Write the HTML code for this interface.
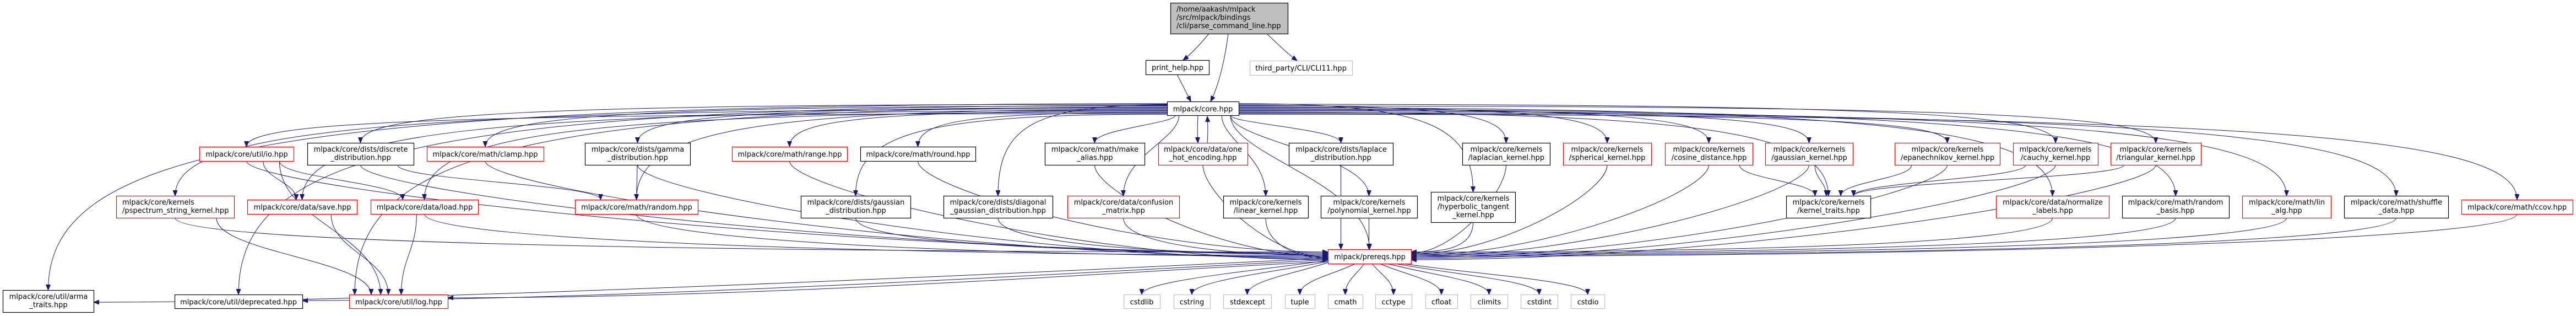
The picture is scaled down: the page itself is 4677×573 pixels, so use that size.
<!DOCTYPE html>
<html><head><meta charset="utf-8"><style>
html,body{margin:0;padding:0;background:#fff;}
svg{display:block;}
text{font-family:"DejaVu Sans","Liberation Sans",sans-serif;font-size:13px;fill:#000;}
</style></head><body>
<svg id="s" width="4677" height="573" viewBox="0 0 4677 573" xmlns="http://www.w3.org/2000/svg">
<defs><marker id="a" markerUnits="userSpaceOnUse" markerWidth="11" markerHeight="9" refX="10" refY="4" orient="auto"><path d="M0,0 L10,4 L0,8 z" fill="#191970" stroke="#191970"/></marker></defs>
<g id="edges" fill="none" stroke="#191970" stroke-width="1"></g>
<g id="nodes" stroke-width="1.2">
<rect x="2125.5" y="5.5" width="213" height="56" fill="#bfbfbf" stroke="#000"/>
<text x="2136" y="21">/home/aakash/mlpack</text><text x="2136" y="36">/src/mlpack/bindings</text><text x="2136" y="51">/cli/parse_command_line.hpp</text>
<rect x="2080.5" y="109.5" width="115" height="26" fill="#fff" stroke="#000"/><text x="2138" y="127" text-anchor="middle">print_help.hpp</text>
<rect x="2269.5" y="110.5" width="186" height="26" fill="#fff" stroke="#bfbfbf"/><text x="2362" y="128" text-anchor="middle">third_party/CLI/CLI11.hpp</text>
<rect x="2119.5" y="184.5" width="130" height="25" fill="#fff" stroke="#000"/><text x="2184" y="202" text-anchor="middle">mlpack/core.hpp</text>

<rect x="362.5" y="266.5" width="171" height="26" fill="#fff" stroke="#f00"/><text x="448" y="284" text-anchor="middle">mlpack/core/util/io.hpp</text>
<rect x="558.5" y="259.5" width="193" height="40" fill="#fff" stroke="#000"/><text x="655" y="275" text-anchor="middle">mlpack/core/dists/discrete</text><text x="655" y="290" text-anchor="middle">_distribution.hpp</text>
<rect x="775.5" y="266.5" width="212" height="26" fill="#fff" stroke="#f00"/><text x="881" y="284" text-anchor="middle">mlpack/core/math/clamp.hpp</text>
<rect x="1062.5" y="259.5" width="191" height="40" fill="#fff" stroke="#000"/><text x="1158" y="275" text-anchor="middle">mlpack/core/dists/gamma</text><text x="1158" y="290" text-anchor="middle">_distribution.hpp</text>
<rect x="1329.5" y="266.5" width="209" height="26" fill="#fff" stroke="#f00"/><text x="1434" y="284" text-anchor="middle">mlpack/core/math/range.hpp</text>
<rect x="1562.5" y="266.5" width="209" height="26" fill="#fff" stroke="#000"/><text x="1667" y="284" text-anchor="middle">mlpack/core/math/round.hpp</text>
<rect x="1897.5" y="259.5" width="181" height="40" fill="#fff" stroke="#000"/><text x="1988" y="275" text-anchor="middle">mlpack/core/math/make</text><text x="1988" y="290" text-anchor="middle">_alias.hpp</text>
<rect x="2103.5" y="259.5" width="162" height="40" fill="#fff" stroke="#f00"/><text x="2184" y="275" text-anchor="middle">mlpack/core/data/one</text><text x="2184" y="290" text-anchor="middle">_hot_encoding.hpp</text>
<rect x="2340.5" y="259.5" width="189" height="40" fill="#fff" stroke="#000"/><text x="2435" y="275" text-anchor="middle">mlpack/core/dists/laplace</text><text x="2435" y="290" text-anchor="middle">_distribution.hpp</text>
<rect x="2655.5" y="259.5" width="159" height="40" fill="#fff" stroke="#000"/><text x="2735" y="275" text-anchor="middle">mlpack/core/kernels</text><text x="2735" y="290" text-anchor="middle">/laplacian_kernel.hpp</text>
<rect x="2838.5" y="259.5" width="160" height="40" fill="#fff" stroke="#f00"/><text x="2918" y="275" text-anchor="middle">mlpack/core/kernels</text><text x="2918" y="290" text-anchor="middle">/spherical_kernel.hpp</text>
<rect x="3023.5" y="259.5" width="159" height="40" fill="#fff" stroke="#f00"/><text x="3103" y="275" text-anchor="middle">mlpack/core/kernels</text><text x="3103" y="290" text-anchor="middle">/cosine_distance.hpp</text>
<rect x="3205.5" y="259.5" width="159" height="40" fill="#fff" stroke="#f00"/><text x="3285" y="275" text-anchor="middle">mlpack/core/kernels</text><text x="3285" y="290" text-anchor="middle">/gaussian_kernel.hpp</text>
<rect x="3440.5" y="259.5" width="191" height="40" fill="#fff" stroke="#f00"/><text x="3536" y="275" text-anchor="middle">mlpack/core/kernels</text><text x="3536" y="290" text-anchor="middle">/epanechnikov_kernel.hpp</text>
<rect x="3655.5" y="259.5" width="154" height="40" fill="#fff" stroke="#f00"/><text x="3732" y="275" text-anchor="middle">mlpack/core/kernels</text><text x="3732" y="290" text-anchor="middle">/cauchy_kernel.hpp</text>
<rect x="3832.5" y="259.5" width="164" height="40" fill="#fff" stroke="#f00"/><text x="3914" y="275" text-anchor="middle">mlpack/core/kernels</text><text x="3914" y="290" text-anchor="middle">/triangular_kernel.hpp</text>

<rect x="211.5" y="355.5" width="214" height="40" fill="#fff" stroke="#f00"/><text x="222" y="371">mlpack/core/kernels</text><text x="222" y="386">/pspectrum_string_kernel.hpp</text>
<rect x="449.5" y="362.5" width="199" height="26" fill="#fff" stroke="#f00"/><text x="549" y="380" text-anchor="middle">mlpack/core/data/save.hpp</text>
<rect x="673.5" y="362.5" width="195" height="26" fill="#fff" stroke="#f00"/><text x="771" y="380" text-anchor="middle">mlpack/core/data/load.hpp</text>
<rect x="1044.5" y="362.5" width="223" height="26" fill="#fff" stroke="#f00"/><text x="1156" y="380" text-anchor="middle">mlpack/core/math/random.hpp</text>
<rect x="1454.5" y="355.5" width="199" height="40" fill="#fff" stroke="#000"/><text x="1554" y="371" text-anchor="middle">mlpack/core/dists/gaussian</text><text x="1554" y="386" text-anchor="middle">_distribution.hpp</text>
<rect x="1713.5" y="355.5" width="198" height="40" fill="#fff" stroke="#000"/><text x="1812" y="371" text-anchor="middle">mlpack/core/dists/diagonal</text><text x="1812" y="386" text-anchor="middle">_gaussian_distribution.hpp</text>
<rect x="1938.5" y="355.5" width="203" height="40" fill="#fff" stroke="#f00"/><text x="2040" y="371" text-anchor="middle">mlpack/core/data/confusion</text><text x="2040" y="386" text-anchor="middle">_matrix.hpp</text>
<rect x="2221.5" y="355.5" width="154" height="40" fill="#fff" stroke="#000"/><text x="2298" y="371" text-anchor="middle">mlpack/core/kernels</text><text x="2298" y="386" text-anchor="middle">/linear_kernel.hpp</text>
<rect x="2398.5" y="355.5" width="175" height="40" fill="#fff" stroke="#000"/><text x="2486" y="371" text-anchor="middle">mlpack/core/kernels</text><text x="2486" y="386" text-anchor="middle">/polynomial_kernel.hpp</text>
<rect x="2598.5" y="348.5" width="153" height="55" fill="#fff" stroke="#000"/><text x="2675" y="364" text-anchor="middle">mlpack/core/kernels</text><text x="2675" y="379" text-anchor="middle">/hyperbolic_tangent</text><text x="2675" y="394" text-anchor="middle">_kernel.hpp</text>
<rect x="3243.5" y="355.5" width="153" height="40" fill="#fff" stroke="#000"/><text x="3320" y="371" text-anchor="middle">mlpack/core/kernels</text><text x="3320" y="386" text-anchor="middle">/kernel_traits.hpp</text>
<rect x="3624.5" y="355.5" width="205" height="40" fill="#fff" stroke="#f00"/><text x="3727" y="371" text-anchor="middle">mlpack/core/data/normalize</text><text x="3727" y="386" text-anchor="middle">_labels.hpp</text>
<rect x="3853.5" y="355.5" width="194" height="40" fill="#fff" stroke="#000"/><text x="3950" y="371" text-anchor="middle">mlpack/core/math/random</text><text x="3950" y="386" text-anchor="middle">_basis.hpp</text>
<rect x="4071.5" y="355.5" width="161" height="40" fill="#fff" stroke="#f00"/><text x="4152" y="371" text-anchor="middle">mlpack/core/math/lin</text><text x="4152" y="386" text-anchor="middle">_alg.hpp</text>
<rect x="4256.5" y="355.5" width="189" height="40" fill="#fff" stroke="#000"/><text x="4351" y="371" text-anchor="middle">mlpack/core/math/shuffle</text><text x="4351" y="386" text-anchor="middle">_data.hpp</text>
<rect x="4469.5" y="362.5" width="202" height="26" fill="#fff" stroke="#f00"/><text x="4570" y="380" text-anchor="middle">mlpack/core/math/ccov.hpp</text>

<rect x="2411.5" y="452.5" width="151" height="26" fill="#fff" stroke="#f00"/><text x="2487" y="470" text-anchor="middle">mlpack/prereqs.hpp</text>

<rect x="5.5" y="526.5" width="165" height="40" fill="#fff" stroke="#000"/><text x="88" y="542" text-anchor="middle">mlpack/core/util/arma</text><text x="88" y="557" text-anchor="middle">_traits.hpp</text>
<rect x="317.5" y="534.5" width="232" height="25" fill="#fff" stroke="#000"/><text x="433" y="552" text-anchor="middle">mlpack/core/util/deprecated.hpp</text>
<rect x="634.5" y="534.5" width="179" height="25" fill="#fff" stroke="#f00"/><text x="724" y="552" text-anchor="middle">mlpack/core/util/log.hpp</text>
<g stroke="#bfbfbf" fill="#fff">
<rect x="2040.5" y="534.5" width="66" height="25"/><rect x="2131.5" y="534.5" width="66" height="25"/><rect x="2221.5" y="534.5" width="87" height="25"/><rect x="2333.5" y="534.5" width="54" height="25"/><rect x="2411.5" y="534.5" width="63" height="25"/><rect x="2497.5" y="534.5" width="66" height="25"/><rect x="2588.5" y="534.5" width="58" height="25"/><rect x="2670.5" y="534.5" width="67" height="25"/><rect x="2761.5" y="534.5" width="67" height="25"/><rect x="2852.5" y="534.5" width="61" height="25"/>
</g>
<text x="2073" y="552" text-anchor="middle">cstdlib</text><text x="2164" y="552" text-anchor="middle">cstring</text><text x="2265" y="552" text-anchor="middle">stdexcept</text><text x="2360" y="552" text-anchor="middle">tuple</text><text x="2443" y="552" text-anchor="middle">cmath</text><text x="2530" y="552" text-anchor="middle">cctype</text><text x="2617" y="552" text-anchor="middle">cfloat</text><text x="2704" y="552" text-anchor="middle">climits</text><text x="2795" y="552" text-anchor="middle">cstdint</text><text x="2883" y="552" text-anchor="middle">cstdio</text>
</g>
</svg>
<script>
var N={parse:[2125,5,213,56],print:[2080,109,115,26],third:[2269,110,186,26],core:[2119,184,130,25],
io:[362,266,171,26],discrete:[558,259,193,40],clamp:[775,266,212,26],gamma:[1062,259,191,40],range:[1329,266,209,26],round:[1562,266,209,26],alias:[1897,259,181,40],onehot:[2103,259,162,40],lapd:[2340,259,189,40],lapk:[2655,259,159,40],sph:[2838,259,160,40],cos:[3023,259,159,40],gk:[3205,259,159,40],epa:[3440,259,191,40],cau:[3655,259,154,40],tri:[3832,259,164,40],
psp:[211,355,214,40],save:[449,362,199,26],load:[673,362,195,26],rand:[1044,362,223,26],gd:[1454,355,199,40],diag:[1713,355,198,40],conf:[1938,355,203,40],lin:[2221,355,154,40],poly:[2398,355,175,40],hyp:[2598,348,153,55],kt:[3243,355,153,40],norm:[3624,355,205,40],rb:[3853,355,194,40],la:[4071,355,161,40],shuf:[4256,355,189,40],ccov:[4469,362,202,26],
pre:[2411,452,151,26],arma:[5,526,165,40],dep:[317,534,232,25],log:[634,534,179,25],
cstdlib:[2040,534,66,25],cstring:[2131,534,66,25],stdexcept:[2221,534,87,25],tuple:[2333,534,54,25],cmath:[2411,534,63,25],cctype:[2497,534,66,25],cfloat:[2588,534,58,25],climits:[2670,534,67,25],cstdint:[2761,534,67,25],cstdio:[2852,534,61,25]};
var G=document.getElementById('edges');
function P(d){var p=document.createElementNS('http://www.w3.org/2000/svg','path');p.setAttribute('d',d);p.setAttribute('marker-end','url(#a)');G.appendChild(p);}
function cx(n){return N[n][0]+N[n][2]/2;}
function simple(a,b){var A=N[a],B=N[b];var sx=cx(a),sy=A[1]+A[3],tx=cx(b),ty=B[1];
 sx+=Math.max(-A[2]*0.35,Math.min(A[2]*0.35,(tx-sx)*0.3));tx+=Math.max(-B[2]*0.3,Math.min(B[2]*0.3,(sx-tx)*0.15));
 var m=(ty-sy)*0.45;P('M'+sx+','+sy+' C'+sx+','+(sy+m)+' '+tx+','+(ty-m)+' '+tx+','+ty);}
P('M2195,61 C2175,85 2160,100 2148,109');
P('M2230,61 C2225,100 2215,150 2198,184');
P('M2300,61 C2320,80 2335,95 2355,110');
P('M2137,135 C2145,150 2155,170 2162,184');
P('M2175,209 C2174,225 2174,245 2175,259');
P('M2192,259 C2193,245 2193,225 2192,211');
// core fan-out
var tg=['arma','dep','log','psp','save','load','io','discrete','clamp','gamma','rand','range','round','gd','diag','conf','alias','lapd','lin','poly','hyp','lapk','sph','cos','gk','kt','epa','cau','tri','norm','rb','la','shuf','ccov','pre'];
var C=N.core,cc=cx('core');
tg.forEach(function(t,i){var B=N[t],tx=cx(t),ty=B[1];
 if(t=='log'){tx=B[0]+10;}
 if(Math.abs(tx-cc)<330){var sx=cc+(tx-cc)*0.3;sx=Math.max(C[0]+15,Math.min(C[0]+C[2]-15,sx));var sy=209;
  var m=(ty-sy)*0.5;P('M'+sx+','+sy+' C'+sx+','+(sy+m*0.6)+' '+tx+','+(ty-m)+' '+tx+','+ty);}
 else{var left=tx<cc;var sx=left?C[0]:C[0]+C[2];var sy=188+(i*3)%20;
  var c1x=sx+(tx-sx)*0.8,c2y=sy+(ty-sy)*0.25;
  P('M'+sx+','+sy+' C'+c1x+','+sy+' '+tx+','+c2y+' '+tx+','+ty);}
});
// row2->row3
[['io','save'],['io','load'],['discrete','rand'],['gamma','rand'],['io','log'],['cos','kt'],['gk','kt'],['epa','kt'],['cau','kt'],['tri','kt']].forEach(function(e){simple(e[0],e[1]);});
[['psp','log'],['save','log'],['load','log']].forEach(function(e){simple(e[0],e[1]);});
// to prereqs
var pr=N.pre;
['psp','io','discrete','load','rand','clamp','gamma','range','round','gd','diag','conf','alias','onehot','lin','poly','hyp','lapk','sph','cos','gk','epa','cau','tri','norm','rb','la','shuf','ccov','lapd'].forEach(function(s,i){
 var A=N[s],sx=cx(s),sy=A[1]+A[3];
 if(sx<2380){var ex=pr[0],ey=pr[1]+5+(i*2)%16;P('M'+sx+','+sy+' C'+sx+','+(sy+50)+' '+(ex-(ex-sx)*0.45)+','+ey+' '+ex+','+ey);}
 else if(sx>2600){var ex=pr[0]+pr[2],ey=pr[1]+5+(i*2)%16;P('M'+sx+','+sy+' C'+sx+','+(sy+50)+' '+(ex+(sx-ex)*0.45)+','+ey+' '+ex+','+ey);}
 else{var ex=Math.max(pr[0]+20,Math.min(pr[0]+pr[2]-20,sx));var ey=pr[1];P('M'+sx+','+sy+' C'+sx+','+(sy+25)+' '+ex+','+(ey-25)+' '+ex+','+ey);}
});
// prereqs -> std
['cstdlib','cstring','stdexcept','tuple','cmath','cctype','cfloat','climits','cstdint','cstdio'].forEach(function(t,i){
 var B=N[t],tx=cx(t),ty=B[1];var sx=pr[0]+10+i*14,sy=pr[1]+pr[3];if(i<4){sx=pr[0]+(i==3?50:0);sy=pr[1]+pr[3]-(i<3?6-i*2:0);}
 P('M'+sx+','+sy+' C'+(sx+(tx-sx)*0.4)+','+(sy+20)+' '+tx+','+(ty-25)+' '+tx+','+ty);});
// prereqs -> arma, dep, log
[['arma',548],['dep',545],['log',540]].forEach(function(e,i){var B=N[e[0]];var ex=B[0]+B[2],ey=e[1];var sx=pr[0],sy=pr[1]+16+i*3;
 P('M'+sx+','+sy+' C'+(sx-400)+','+(sy+20)+' '+(ex+600)+','+ey+' '+ex+','+ey);});
</script>
</body></html>
